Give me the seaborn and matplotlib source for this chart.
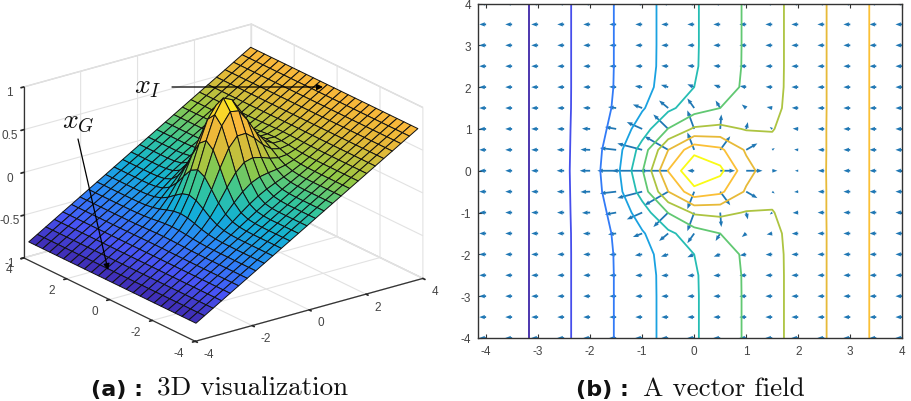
import numpy as np
import matplotlib
matplotlib.use("Agg")
import matplotlib.pyplot as plt
import seaborn as sns
from matplotlib.patches import FancyArrowPatch

# Surface mesh: plane height along x (27 samples, -3.9 to 3.9)
surface_ramp = [-0.81, -0.75, -0.69, -0.63, -0.57, -0.51, -0.45, -0.39, -0.33, -0.27,
                -0.21, -0.15, -0.09, -0.03, 0.03, 0.09, 0.15, 0.21, 0.27, 0.33,
                0.39, 0.45, 0.51, 0.57, 0.63, 0.69, 0.75]
surface_x = [-3.9, -3.6, -3.3, -3.0, -2.7, -2.4, -2.1, -1.8, -1.5, -1.2, -0.9, -0.6, -0.3,
             0.0, 0.3, 0.6, 0.9, 1.2, 1.5, 1.8, 2.1, 2.4, 2.7, 3.0, 3.3, 3.6, 3.9]
surface_y = [-3.9, -3.575, -3.25, -2.925, -2.6, -2.275, -1.95, -1.625, -1.3, -0.975, -0.65,
             -0.325, 0, 0.325, 0.65, 0.975, 1.3, 1.625, 1.95, 2.275, 2.6, 2.925, 3.25, 3.575, 3.9]

# One quadrant of the hill on the mesh: rows |y| = 0, 0.325, ...; columns |x| = 0, 0.3, ...
surface_hill = np.array([
    [1.020, .914, .698, .445, .237, .105, .039, .012, .003],
    [.900, .822, .628, .400, .213, .094, .035, .011, .003],
    [.655, .599, .457, .291, .155, .069, .026, .008, .002],
    [.386, .353, .269, .172, .091, .040, .015, .005, .001],
    [.185, .169, .129, .082, .044, .019, .007, .002, .001],
    [.071, .065, .050, .032, .017, .007, .003, .001, .000],
    [.022, .020, .015, .010, .005, .002, .001, .000, .000],
    [.005, .005, .004, .002, .001, .001, .000, .000, .000],
])

# Vector field samples, every 0.5
field_axis = [-4, -3.5, -3, -2.5, -2, -1.5, -1, -0.5, 0, 0.5, 1, 1.5, 2, 2.5, 3, 3.5, 4]
field_ramp = [-0.8, -0.7, -0.6, -0.5, -0.4, -0.3, -0.2, -0.1, 0.0,
              0.1, 0.2, 0.3, 0.4, 0.5, 0.6, 0.7, 0.8]
field_hill = np.array([
    [1.000, .779, .368, .105, .018, .002],
    [.779, .607, .287, .082, .014, .001],
    [.368, .287, .135, .039, .007, .001],
    [.105, .082, .039, .011, .002, .000],
    [.018, .014, .007, .002, .000, .000],
    [.002, .001, .001, .000, .000, .000],
])

contour_levels = [-0.636, -0.473, -0.309, -0.145, 0.018, 0.182, 0.345, 0.509, 0.673, 0.836]
axis_ticks_3d = [-4, -2, 0, 2, 4]
z_ticks = [-1, -0.5, 0, 0.5, 1]
z_tick_labels = ["-1", "-0.5", "0", "0.5", "1"]
field_ticks = [-4, -3, -2, -1, 0, 1, 2, 3, 4]

parula_colors = ["#3e26a8", "#4754f5", "#2b87f7", "#12b0d6", "#37c797",
                 "#94c945", "#e0ba38", "#fbb83a", "#f9fb15"]

FIG_W, FIG_H = 911, 402
sns.set_theme(style="white")
plt.rcParams["font.family"] = ["Liberation Sans", "DejaVu Sans"]
plt.rcParams["axes.unicode_minus"] = False
plt.rcParams["mathtext.fontset"] = "cm"
parula = sns.blend_palette(parula_colors, n_colors=256, as_cmap=True)
TICK_GREY = "#444444"


def fx(px):
    return px / FIG_W


def fy(py):
    return 1 - py / FIG_H


def mirror(quadrant):
    """Reflect a quadrant about both axes."""
    half = np.vstack((quadrant[:0:-1], quadrant))
    return np.hstack((half[:, :0:-1], half))


def on_grid(quadrant, rows, cols):
    """Centre a mirrored hill inside a rows x cols array of zeros."""
    hill = mirror(quadrant)
    out = np.zeros((rows, cols))
    r0 = (rows - hill.shape[0]) // 2
    c0 = (cols - hill.shape[1]) // 2
    out[r0:r0 + hill.shape[0], c0:c0 + hill.shape[1]] = hill
    return out


fig = plt.figure(figsize=(FIG_W / 100, FIG_H / 100), dpi=100)

# ---- 3D surface ----
X, Y = np.meshgrid(surface_x, surface_y)
Z = np.array(surface_ramp)[None, :] + on_grid(surface_hill, len(surface_y), len(surface_x))
side = 430
cx, cy = 217.5, 189.5
ax3 = fig.add_axes([fx(cx - side / 2), fy(cy + side / 2), side / FIG_W, side / FIG_H],
                   projection="3d", proj_type="ortho")
ax3.set_box_aspect((287, 287, 185))
ax3.view_init(elev=21.5, azim=-127)
ax3.patch.set_alpha(0)
ax3.plot_surface(X, Y, Z, rstride=1, cstride=1, cmap=parula, vmin=-0.83, vmax=0.98,
                 edgecolor="#111111", linewidth=0.7, shade=False, antialiased=True)
ax3.set_xlim(-4, 4)
ax3.set_ylim(-4, 4)
ax3.set_zlim(-1, 1, view_margin=0)
ax3.set_xticks(axis_ticks_3d)
ax3.set_yticks(axis_ticks_3d)
ax3.set_zticks(z_ticks)
ax3.set_zticklabels(z_tick_labels)
ax3.zaxis.set_ticks_position("upper")
for axis in (ax3.xaxis, ax3.yaxis, ax3.zaxis):
    axis.set_pane_color((1, 1, 1, 1))
    axis.pane.set_edgecolor("#d4d4d4")
    axis.line.set_color("#333333")
    axis.line.set_linewidth(0.9)
    axis._axinfo["grid"].update(color="#e2e2e2", linewidth=0.8)
    axis._axinfo["tick"].update(inward_factor=0.15, outward_factor=0.0, color="#333333")
ax3.tick_params(axis="x", labelsize=8.5, labelcolor=TICK_GREY, pad=0)
ax3.tick_params(axis="y", labelsize=8.5, labelcolor=TICK_GREY, pad=0)
ax3.tick_params(axis="z", labelsize=8.5, labelcolor=TICK_GREY, pad=-2.3)
plt.setp(ax3.get_xticklabels(), ha="left", va="center")
plt.setp(ax3.get_yticklabels(), ha="right", va="center")

# ---- contour lines and gradient arrows ----
axb = fig.add_axes([fx(478.3), fy(339), fx(902.3 - 478.3), (339 - 4.5) / FIG_H])
X2, Y2 = np.meshgrid(field_axis, field_axis)
Z2 = np.array(field_ramp)[None, :] + on_grid(field_hill, len(field_axis), len(field_axis))
axb.contour(X2, Y2, Z2, levels=contour_levels, cmap=parula,
            vmin=contour_levels[0], vmax=contour_levels[-1], linewidths=1.3)
dz_dy, dz_dx = np.gradient(Z2, 0.5)
axb.quiver(X2, Y2, -dz_dx, -dz_dy, angles="xy", scale_units="xy", scale=1 / 0.66,
           color="#1f77b4", width=0.0042, headwidth=2.4, headlength=3.2, headaxislength=3)
axb.set_xlim(-4.15, 4)
axb.set_ylim(-4, 4)
axb.set_xticks(field_ticks)
axb.set_yticks(field_ticks)
axb.tick_params(direction="in", length=3, width=0.8, color="#333333", labelsize=8.5,
                labelcolor=TICK_GREY, top=True, right=True, bottom=True, left=True, pad=5)
for spine in axb.spines.values():
    spine.set_color("#333333")
    spine.set_linewidth(1.0)
    spine.set_visible(True)

# ---- labels and pointers over the surface ----
fig.text(fx(134), fy(93), r"$x_I$", fontsize=20, color="#111111")
fig.text(fx(62), fy(128), r"$x_G$", fontsize=20, color="#111111")
for start, end in [((172, 88), (323, 88)), ((78, 140), (108, 271))]:
    fig.add_artist(FancyArrowPatch((fx(start[0]), fy(start[1])), (fx(end[0]), fy(end[1])),
                                   transform=fig.transFigure, arrowstyle="-|>",
                                   mutation_scale=9, color="black", linewidth=0.9,
                                   shrinkA=0, shrinkB=0))

# ---- captions ----
for x_bold, label, x_text, text in [(91, "(a) :", 157, "3D visualization"),
                                    (576, "(b) :", 643, "A vector field")]:
    fig.text(fx(x_bold), fy(396), label, fontsize=16, fontweight="bold", color="#111111",
             family="DejaVu Sans")
    fig.text(fx(x_text), fy(396), text, fontsize=19.5, color="#111111", family="cmr10")

fig.savefig("out.png", dpi=100)
